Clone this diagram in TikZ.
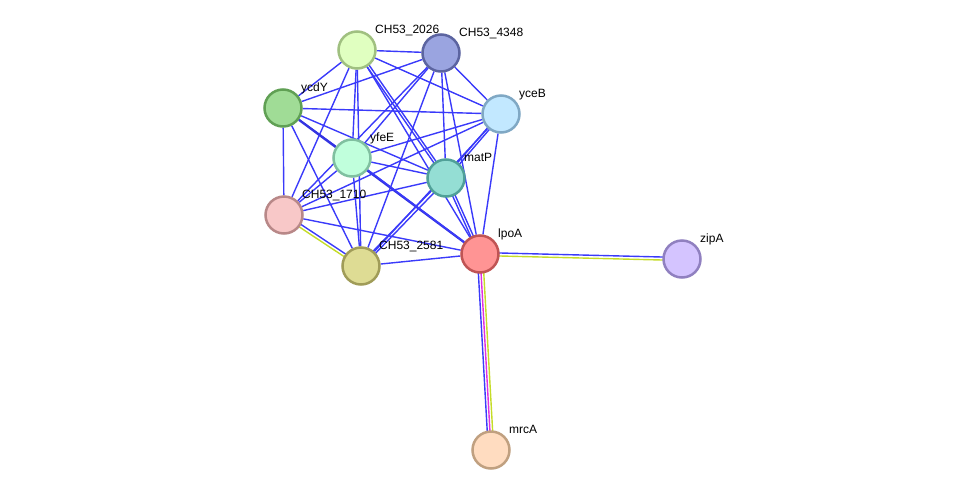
\documentclass[tikz,border=0pt]{standalone}
\usepackage{fontspec}
\setmainfont{Liberation Sans}
\usetikzlibrary{calc,backgrounds}
% edge colours
\definecolor{coblue}{RGB}{58,58,250}
\definecolor{textmine}{RGB}{197,220,40}
\definecolor{experim}{RGB}{224,48,224}
% protein colours (fill, border)
\definecolor{fc2026}{RGB}{224,255,192}\definecolor{bc2026}{RGB}{160,192,128}
\definecolor{fc4348}{RGB}{154,164,224}\definecolor{bc4348}{RGB}{92,100,160}
\definecolor{fycdY}{RGB}{160,220,150}\definecolor{bycdY}{RGB}{96,160,84}
\definecolor{fyceB}{RGB}{194,232,255}\definecolor{byceB}{RGB}{128,168,196}
\definecolor{fyfeE}{RGB}{192,255,220}\definecolor{byfeE}{RGB}{128,192,160}
\definecolor{fmatP}{RGB}{148,222,212}\definecolor{bmatP}{RGB}{80,160,152}
\definecolor{fc1710}{RGB}{248,200,200}\definecolor{bc1710}{RGB}{184,136,136}
\definecolor{fc2581}{RGB}{222,220,148}\definecolor{bc2581}{RGB}{160,156,88}
\definecolor{flpoA}{RGB}{255,148,148}\definecolor{blpoA}{RGB}{192,84,84}
\definecolor{fzipA}{RGB}{212,196,255}\definecolor{bzipA}{RGB}{144,128,192}
\definecolor{fmrcA}{RGB}{255,220,192}\definecolor{bmrcA}{RGB}{192,160,128}
\tikzset{
	protein/.style={circle,minimum size=37pt,inner sep=0pt,line width=2.5pt,fill=f#1,draw=b#1},
	lbl/.style={anchor=base west,inner sep=0pt,font=\fontsize{12}{14}\selectfont},
	edge/.style={line width=1.4pt,color=coblue},
	strong/.style={line width=2.3pt,color=coblue!90!black},
}
% one line of a bundle, shifted sideways by #3
\newcommand{\sideline}[4]{\draw[edge,#4] ($(#1)!#3!90:(#2)$) -- ($(#2)!#3!-90:(#1)$);}

\begin{document}
\begin{tikzpicture}[x=1pt,y=-1pt]
			\useasboundingbox (0,0) rectangle (975,496);

			% proteins
			\node[protein=c2026] (c2026) at (357,50) {};
			\node[protein=c4348] (c4348) at (441,53) {};
			\node[protein=ycdY] (ycdY) at (283,108) {};
			\node[protein=yceB] (yceB) at (501,114) {};
			\node[protein=yfeE] (yfeE) at (352,158) {};
			\node[protein=matP] (matP) at (446,178) {};
			\node[protein=c1710] (c1710) at (284,215) {};
			\node[protein=c2581] (c2581) at (361,266) {};
			\node[protein=lpoA] (lpoA) at (480,254) {};
			\node[protein=zipA] (zipA) at (682,259) {};
			\node[protein=mrcA] (mrcA) at (491,450) {};

			% labels
			\node[lbl] (c2026-l) at ($(c2026)+(18,-17)$) {CH53\_2026};
			\node[lbl] (c4348-l) at ($(c4348)+(18,-17)$) {CH53\_4348};
			\node[lbl] (ycdY-l) at ($(ycdY)+(18,-17)$) {ycdY};
			\node[lbl] (yceB-l) at ($(yceB)+(18,-17)$) {yceB};
			\node[lbl] (yfeE-l) at ($(yfeE)+(18,-17)$) {yfeE};
			\node[lbl] (matP-l) at ($(matP)+(18,-17)$) {matP};
			\node[lbl] (c1710-l) at ($(c1710)+(18,-17)$) {CH53\_1710};
			\node[lbl] (c2581-l) at ($(c2581)+(18,-17)$) {CH53\_2581};
			\node[lbl] (lpoA-l) at ($(lpoA)+(18,-17)$) {lpoA};
			\node[lbl] (zipA-l) at ($(zipA)+(18,-17)$) {zipA};
			\node[lbl] (mrcA-l) at ($(mrcA)+(18,-17)$) {mrcA};

			\begin{scope}[on background layer]
			% single blue edges
			\draw[edge] (c2026) -- (c4348);
			\draw[edge] (c2026) -- (ycdY);
			\draw[edge] (c2026) -- (yceB);
			\draw[edge] (c2026) -- (yfeE);
			\draw[edge] (c2026) -- (c1710);
			\draw[edge] (c2026) -- (c2581);
			\draw[edge] (c2026) -- (lpoA);
			\draw[edge] (c4348) -- (ycdY);
			\draw[edge] (c4348) -- (yceB);
			\draw[edge] (c4348) -- (yfeE);
			\draw[edge] (c4348) -- (matP);
			\draw[edge] (c4348) -- (c1710);
			\draw[edge] (c4348) -- (c2581);
			\draw[edge] (c4348) -- (lpoA);
			\draw[edge] (ycdY) -- (yceB);
			\draw[edge] (ycdY) -- (yfeE);
			\draw[edge] (ycdY) -- (matP);
			\draw[edge] (ycdY) -- (c1710);
			\draw[edge] (ycdY) -- (c2581);
			\draw[strong] (ycdY) -- (lpoA);
			\draw[edge] (yceB) -- (yfeE);
			\draw[edge] (yceB) -- (c1710);
			\draw[edge] (yceB) -- (c2581);
			\draw[edge] (yceB) -- (lpoA);
			\draw[edge] (yfeE) -- (matP);
			\draw[edge] (yfeE) -- (c1710);
			\draw[edge] (yfeE) -- (c2581);
			\draw[edge] (yfeE) -- (lpoA);
			\draw[edge] (matP) -- (c1710);
			\draw[edge] (c1710) -- (lpoA);
			\draw[edge] (c2581) -- (lpoA);
			% doubled blue edges
			\sideline{c2026}{matP}{1.3pt}{}
			\sideline{c2026}{matP}{-1.3pt}{}
			\sideline{yceB}{matP}{1.2pt}{}
			\sideline{yceB}{matP}{-1.2pt}{}
			\sideline{matP}{c2581}{1.6pt}{}
			\sideline{matP}{c2581}{-1.6pt}{}
			\sideline{matP}{lpoA}{1.3pt}{}
			\sideline{matP}{lpoA}{-1.3pt}{}
			% mixed evidence
			\sideline{c1710}{c2581}{1.5pt}{}
			\sideline{c1710}{c2581}{-1.5pt}{textmine}
			\sideline{lpoA}{zipA}{1.5pt}{}
			\sideline{lpoA}{zipA}{-1.5pt}{textmine}
			\sideline{lpoA}{mrcA}{-2.7pt}{}
			\sideline{lpoA}{mrcA}{0pt}{experim}
			\sideline{lpoA}{mrcA}{2.7pt}{textmine}
			\end{scope}
\end{tikzpicture}
\end{document}
